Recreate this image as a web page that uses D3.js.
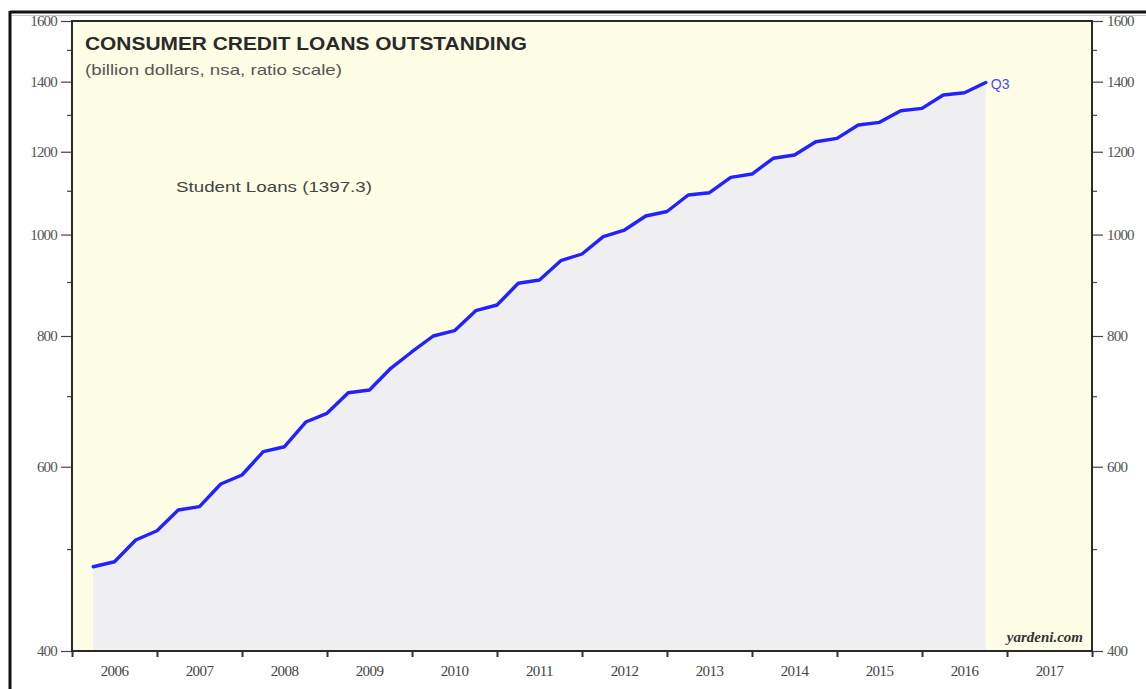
<!DOCTYPE html>
<html>
<head>
<meta charset="utf-8">
<script src="https://cdn.jsdelivr.net/npm/d3@7"></script>
<style>
  body { margin: 0; background: #fff; }
  svg { display: block; }
  .tick text { font-family: "Liberation Serif", "DejaVu Serif", serif; fill: #555; }
</style>
</head>
<body>
<svg id="chart"></svg>
<script>
// quarterly data, 2006 Q1 .. 2016 Q3 (billion dollars)
var quarters = [];
for (var yr = 2006; yr <= 2016; yr++) {
  for (var q = 1; q <= 4; q++) {
    if (yr == 2016 && q > 3) break;
    quarters.push(yr + "Q" + q);
  }
}
var studentLoans = [
  481.5, 486.8, 510.7, 521.2,
  545.5, 549.5, 577.6, 589.2,
  620.2, 627.0, 662.0, 674.8,
  706.1, 710.4, 745.1, 772.8,
  800.0, 809.4, 845.8, 856.5,
  898.4, 904.9, 944.2, 958.2,
  995.4, 1010.1, 1041.7, 1052.1,
  1091.0, 1096.5, 1134.3, 1142.6,
  1182.8, 1191.4, 1226.8, 1235.9,
  1272.7, 1280.2, 1313.4, 1320.3,
  1359.5, 1366.4, 1397.3
];
var yMajor = [400, 600, 800, 1000, 1200, 1400, 1600];
var yMinor = [500, 700, 900, 1100, 1300, 1500];
var years = [2006, 2007, 2008, 2009, 2010, 2011, 2012, 2013, 2014, 2015, 2016, 2017];

var svgWidth = 1146, svgHeight = 689;
var svg = d3.select("#chart").attr("width", svgWidth).attr("height", svgHeight);

// plot box
var plotLeft = 72, plotRight = 1092, plotTop = 21, plotBottom = 651;

// outer frame
svg.append("line").attr("x1", 10).attr("y1", 12).attr("x2", 1146).attr("y2", 12)
  .attr("stroke", "#111").attr("stroke-width", 3);
svg.append("line").attr("x1", 10).attr("y1", 11).attr("x2", 10).attr("y2", 689)
  .attr("stroke", "#111").attr("stroke-width", 3);
svg.append("line").attr("x1", 12).attr("y1", 15.5).attr("x2", 1146).attr("y2", 15.5)
  .attr("stroke", "#c8c8c8").attr("stroke-width", 1);

var x = d3.scaleLinear().domain([2006, 2018]).range([plotLeft, plotRight]);
var y = d3.scaleLog().domain([400, 1600]).range([plotBottom, plotTop]);

function qx(label) {
  var parts = label.split("Q");
  return x(+parts[0] + (+parts[1]) / 4);   // plotted at quarter end
}

var pairs = quarters.map(function(d, i) { return [d, studentLoans[i]]; });

// background
svg.append("rect").attr("x", plotLeft).attr("y", plotTop)
  .attr("width", plotRight - plotLeft).attr("height", plotBottom - plotTop)
  .attr("fill", "#fefee6");

// shaded area under line
var area = d3.area()
  .x(d => qx(d[0]))
  .y0(plotBottom)
  .y1(d => y(d[1]));
svg.append("path").datum(pairs)
  .attr("d", area)
  .attr("fill", "#efeff1");

// line
var line = d3.line()
  .x(d => qx(d[0]))
  .y(d => y(d[1]));
svg.append("path").datum(pairs)
  .attr("d", line)
  .attr("fill", "none")
  .attr("stroke", "#2222ff")
  .attr("stroke-width", 3.4)
  .attr("stroke-linejoin", "round")
  .attr("stroke-linecap", "round");

// axes
var yLeft = d3.axisLeft(y).tickValues(yMajor).tickFormat(d3.format("d")).tickSize(11).tickPadding(4);
var yRight = d3.axisRight(y).tickValues(yMajor).tickFormat(d3.format("d")).tickSize(11).tickPadding(4);

var gl = svg.append("g").attr("transform", "translate(" + plotLeft + ",0)").call(yLeft);
var gr = svg.append("g").attr("transform", "translate(" + plotRight + ",0)").call(yRight);
[gl, gr].forEach(function(g) {
  g.select(".domain").remove();
  g.selectAll(".tick line").attr("stroke", "#444").attr("stroke-width", 1.2);
  g.selectAll(".tick text").style("font-size", "15px").style("letter-spacing", "-0.8px");
});

// minor ticks
svg.append("g").selectAll("line").data(yMinor).enter().append("line")
  .attr("x1", plotLeft - 5).attr("x2", plotLeft).attr("y1", d => y(d)).attr("y2", d => y(d))
  .attr("stroke", "#444").attr("stroke-width", 1.2);
svg.append("g").selectAll("line").data(yMinor).enter().append("line")
  .attr("x1", plotRight).attr("x2", plotRight + 5).attr("y1", d => y(d)).attr("y2", d => y(d))
  .attr("stroke", "#444").attr("stroke-width", 1.2);

// x axis: ticks at year boundaries, labels mid-year
var xAxis = d3.axisBottom(x).tickValues(d3.range(2006, 2019)).tickFormat("").tickSize(6);
var gx = svg.append("g").attr("transform", "translate(0," + plotBottom + ")").call(xAxis);
gx.select(".domain").remove();
gx.selectAll(".tick line").attr("stroke", "#333").attr("stroke-width", 2);

svg.append("g").selectAll("text").data(years).enter().append("text")
  .attr("x", d => x(d + 0.5))
  .attr("y", 676)
  .attr("text-anchor", "middle")
  .style("font-family", "'Liberation Serif', serif")
  .style("font-size", "15px")
  .style("letter-spacing", "-0.6px")
  .attr("fill", "#444")
  .text(d => d);

// plot frame
svg.append("rect").attr("x", plotLeft).attr("y", plotTop)
  .attr("width", plotRight - plotLeft).attr("height", plotBottom - plotTop)
  .attr("fill", "none").attr("stroke", "#2a2a2a").attr("stroke-width", 2);

// titles
svg.append("text").attr("x", 85).attr("y", 50)
  .style("font-family", "'Liberation Sans', Arial, sans-serif")
  .style("font-weight", "bold").style("font-size", "19px")
  .attr("textLength", 442).attr("lengthAdjust", "spacingAndGlyphs")
  .attr("fill", "#2a2a2a")
  .text("CONSUMER CREDIT LOANS OUTSTANDING");

svg.append("text").attr("x", 85).attr("y", 75)
  .style("font-family", "'Liberation Sans', Arial, sans-serif")
  .style("font-size", "15px")
  .attr("textLength", 257).attr("lengthAdjust", "spacingAndGlyphs")
  .attr("fill", "#555")
  .text("(billion dollars, nsa, ratio scale)");

svg.append("text").attr("x", 176).attr("y", 192)
  .style("font-family", "'Liberation Sans', Arial, sans-serif")
  .style("font-size", "15px")
  .attr("textLength", 196).attr("lengthAdjust", "spacingAndGlyphs")
  .attr("fill", "#444")
  .text("Student Loans (1397.3)");

var last = pairs[pairs.length - 1];
svg.append("text").attr("x", qx(last[0]) + 5).attr("y", y(last[1]) + 6)
  .style("font-family", "'Liberation Sans', Arial, sans-serif")
  .style("font-size", "14px")
  .attr("fill", "#4a4aff")
  .text("Q3");

svg.append("text").attr("x", 1083).attr("y", 642)
  .attr("text-anchor", "end")
  .style("font-family", "'Liberation Serif', serif")
  .style("font-style", "italic").style("font-weight", "bold")
  .style("font-size", "15px")
  .attr("fill", "#333")
  .text("yardeni.com");
</script>
</body>
</html>
